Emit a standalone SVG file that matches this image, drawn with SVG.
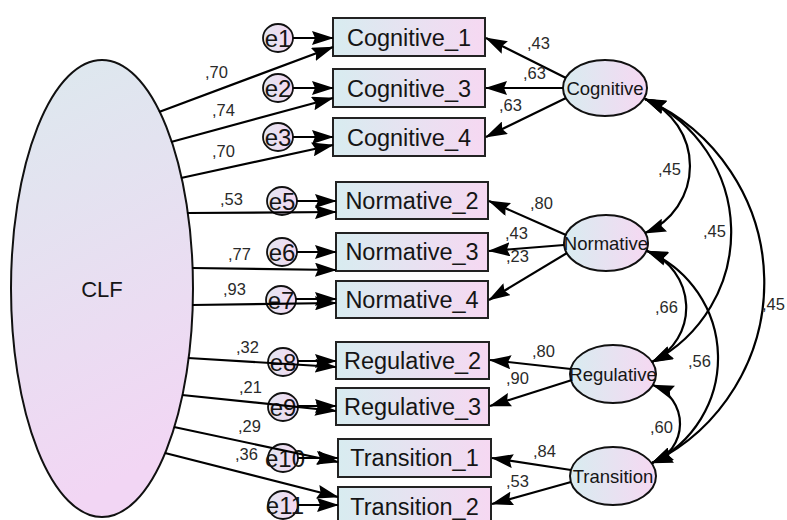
<svg xmlns="http://www.w3.org/2000/svg" width="787" height="520" viewBox="0 0 787 520">
<defs>
<linearGradient id="gh" x1="0" y1="0" x2="1" y2="0"><stop offset="0" stop-color="#d8ecf0"/><stop offset="1" stop-color="#f6d8f2"/></linearGradient>
<linearGradient id="ge" x1="0" y1="0" x2="1" y2="0"><stop offset="0" stop-color="#e2e6f2"/><stop offset="1" stop-color="#f5d8f0"/></linearGradient>
<linearGradient id="gv" x1="0" y1="0" x2="0.2" y2="1"><stop offset="0" stop-color="#dce9ee"/><stop offset="1" stop-color="#f2d6f4"/></linearGradient>
<marker id="ah" markerUnits="userSpaceOnUse" viewBox="0 0 22 14" markerWidth="22" markerHeight="14" refX="21" refY="7" orient="auto-start-reverse"><path d="M0,0 L22,7 L0,14 L3,7 z" fill="#000"/></marker>
<style>
.box{fill:url(#gh);stroke:#222;stroke-width:2}
.lat{fill:url(#gh);stroke:#111;stroke-width:2}
.err{fill:url(#ge);stroke:#111;stroke-width:1.8}
.bt{font-family:"Liberation Sans",Arial,sans-serif;font-size:23.5px;fill:#151515;text-anchor:middle}
.et{font-family:"Liberation Sans",Arial,sans-serif;font-size:24px;fill:#151515;text-anchor:middle}
.lt{font-family:"Liberation Sans",Arial,sans-serif;font-size:18.5px;fill:#151515;text-anchor:middle}
.nt{font-family:"Liberation Sans",Arial,sans-serif;font-size:16.5px;fill:#2a2a2a}
.c{fill:none;stroke:#000;stroke-width:2.2;marker-end:url(#ah)}
.d{fill:none;stroke:#000;stroke-width:2.2;marker-start:url(#ah);marker-end:url(#ah)}
</style>
</defs>
<rect width="787" height="520" fill="#fff"/>

<g id="CLF"><ellipse cx="102" cy="288.5" rx="91" ry="228.5" fill="url(#gv)" stroke="#111" stroke-width="2"/><text class="bt" x="102" y="297" style="font-size:22px">CLF</text></g>

<g id="Cognitive_1"><rect class="box" x="333" y="18" width="152" height="38"/><text class="bt" x="409" y="46">Cognitive_1</text></g>
<g id="Cognitive_3"><rect class="box" x="333" y="69" width="152" height="38"/><text class="bt" x="409" y="97">Cognitive_3</text></g>
<g id="Cognitive_4"><rect class="box" x="333" y="118" width="152" height="38"/><text class="bt" x="409" y="146">Cognitive_4</text></g>
<g id="Normative_2"><rect class="box" x="336" y="182" width="152" height="37"/><text class="bt" x="412" y="209">Normative_2</text></g>
<g id="Normative_3"><rect class="box" x="336" y="233" width="152" height="38"/><text class="bt" x="412" y="260">Normative_3</text></g>
<g id="Normative_4"><rect class="box" x="336" y="281" width="152" height="37"/><text class="bt" x="412" y="308">Normative_4</text></g>
<g id="Regulative_2"><rect class="box" x="336" y="342" width="153" height="37"/><text class="bt" x="412.5" y="369">Regulative_2</text></g>
<g id="Regulative_3"><rect class="box" x="336" y="388" width="153" height="37"/><text class="bt" x="412.5" y="415">Regulative_3</text></g>
<g id="Transition_1"><rect class="box" x="338" y="439" width="153" height="38"/><text class="bt" x="414.5" y="466">Transition_1</text></g>
<g id="Transition_2"><rect class="box" x="338" y="487" width="153" height="40"/><text class="bt" x="414.5" y="515">Transition_2</text></g>

<g id="e1"><ellipse class="err" cx="278" cy="38" rx="15" ry="14"/><text class="et" x="278" y="46.5">e1</text></g>
<g id="e2"><ellipse class="err" cx="278" cy="88" rx="15" ry="14"/><text class="et" x="278" y="96.5">e2</text></g>
<g id="e3"><ellipse class="err" cx="278" cy="137" rx="15" ry="14"/><text class="et" x="278" y="145.5">e3</text></g>
<g id="e5"><ellipse class="err" cx="282" cy="201" rx="15" ry="14"/><text class="et" x="282" y="209.5">e5</text></g>
<g id="e6"><ellipse class="err" cx="282" cy="252" rx="15" ry="14"/><text class="et" x="282" y="260.5">e6</text></g>
<g id="e7"><ellipse class="err" cx="281" cy="300" rx="15" ry="14"/><text class="et" x="281" y="308.5">e7</text></g>
<g id="e8"><ellipse class="err" cx="283" cy="362" rx="15" ry="14"/><text class="et" x="283" y="370.5">e8</text></g>
<g id="e9"><ellipse class="err" cx="283" cy="407" rx="15" ry="14"/><text class="et" x="283" y="415.5">e9</text></g>
<g id="e10"><ellipse class="err" cx="283" cy="458" rx="15" ry="14"/><text class="et" x="285" y="466.5">e10</text></g>
<g id="e11"><ellipse class="err" cx="283" cy="505" rx="15" ry="14"/><text class="et" x="285" y="513.5">e11</text></g>

<g id="Cognitive"><ellipse class="lat" cx="605" cy="88" rx="42" ry="28"/><text class="lt" x="605" y="95">Cognitive</text></g>
<g id="Normative"><ellipse class="lat" cx="606" cy="243" rx="42" ry="28"/><text class="lt" x="606" y="250">Normative</text></g>
<g id="Regulative"><ellipse class="lat" cx="613" cy="374" rx="43" ry="29"/><text class="lt" x="613" y="381">Regulative</text></g>
<g id="Transition"><ellipse class="lat" cx="613" cy="476" rx="43" ry="29"/><text class="lt" x="613" y="483">Transition</text></g>

<g id="connectors">
<path class="c" d="M293,38 L333,38"/>
<path class="c" d="M293,88 L333,88"/>
<path class="c" d="M293,137 L333,137"/>
<path class="c" d="M297,201 L336,201"/>
<path class="c" d="M297,252 L336,252"/>
<path class="c" d="M296,299 L336,299"/>
<path class="c" d="M298,361 L336,361"/>
<path class="c" d="M298,406 L336,406"/>
<path class="c" d="M298,458 L338,458"/>
<path class="c" d="M298,505 L338,505"/>

<path class="c" d="M159,112 L333,47"/>
<path class="c" d="M171,142 L333,98"/>
<path class="c" d="M181,178 L333,145"/>
<path class="c" d="M187,213 L336,212"/>
<path class="c" d="M192,268 L336,270"/>
<path class="c" d="M192,305 L336,303"/>
<path class="c" d="M188,358 L336,367"/>
<path class="c" d="M182,395 L336,411"/>
<path class="c" d="M174,427 L338,462"/>
<path class="c" d="M165,453 L338,497"/>

<path class="c" d="M566,78 L486,38"/>
<path class="c" d="M563,88 L486,88"/>
<path class="c" d="M566,98 L486,137"/>
<path class="c" d="M566,235 L489,201"/>
<path class="c" d="M564,245 L489,251"/>
<path class="c" d="M567,253 L489,300"/>
<path class="c" d="M571,369 L490,360"/>
<path class="c" d="M572,380 L490,406"/>
<path class="c" d="M571,470 L492,458"/>
<path class="c" d="M571,482 L492,504"/>

<path class="d" d="M645,99 A72.4,72.4 0 0 1 645,233"/>
<path class="d" d="M645,99 A146,146 0 0 1 652,362"/>
<path class="d" d="M645,99 A201,201 0 0 1 652,463"/>
<path class="d" d="M647,251 A60.4,60.4 0 0 1 652,362"/>
<path class="d" d="M647,251 A116.3,116.3 0 0 1 652,463"/>
<path class="d" d="M653,385 A41.4,41.4 0 0 1 652,463"/>
</g>

<g id="labels">
<text class="nt" x="205" y="78">,70</text>
<text class="nt" x="212" y="116">,74</text>
<text class="nt" x="212" y="157">,70</text>
<text class="nt" x="220" y="205">,53</text>
<text class="nt" x="228" y="260">,77</text>
<text class="nt" x="223" y="295">,93</text>
<text class="nt" x="236" y="353">,32</text>
<text class="nt" x="239" y="393">,21</text>
<text class="nt" x="238" y="432">,29</text>
<text class="nt" x="235" y="460">,36</text>

<text class="nt" x="527" y="49">,43</text>
<text class="nt" x="523" y="79">,63</text>
<text class="nt" x="499" y="111">,63</text>
<text class="nt" x="530" y="209">,80</text>
<text class="nt" x="505" y="239">,43</text>
<text class="nt" x="506" y="262">,23</text>
<text class="nt" x="532" y="357">,80</text>
<text class="nt" x="506" y="384">,90</text>
<text class="nt" x="533" y="457">,84</text>
<text class="nt" x="506" y="487">,53</text>

<text class="nt" x="658" y="175">,45</text>
<text class="nt" x="703" y="237">,45</text>
<text class="nt" x="762" y="310">,45</text>
<text class="nt" x="655" y="313">,66</text>
<text class="nt" x="688" y="367">,56</text>
<text class="nt" x="650" y="433">,60</text>
</g>
</svg>
